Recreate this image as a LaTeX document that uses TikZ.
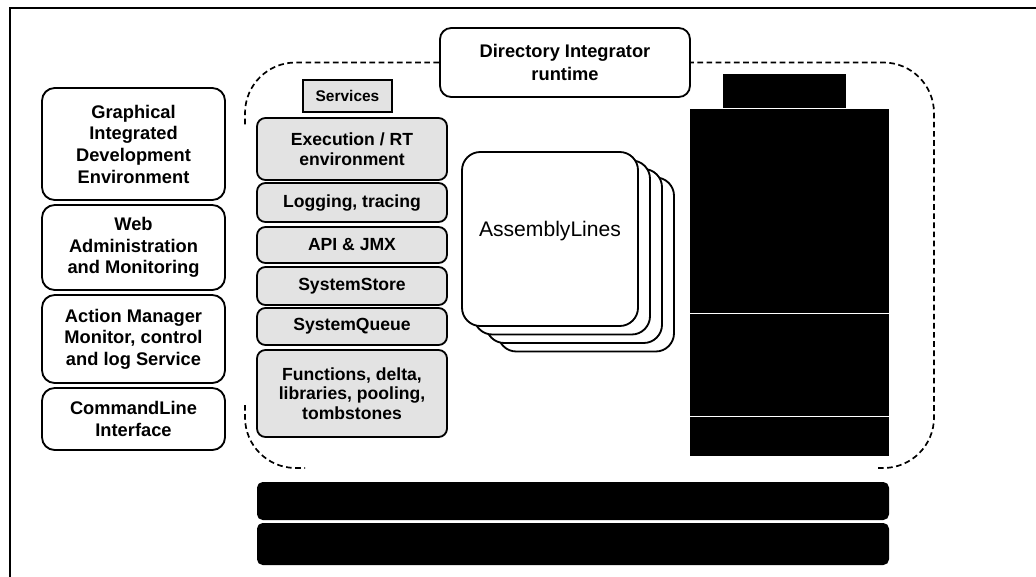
\documentclass[tikz,border=0pt]{standalone}
\usepackage{fontspec}
\setmainfont{Liberation Sans}
\newlength\pxu
\setlength\pxu{0.025cm}

\begin{document}
\begin{tikzpicture}[x=0.025cm, y=-0.025cm,
    toolbox/.style={draw, line width=1.3pt, rounded corners=9pt, align=center, inner sep=0pt,
        minimum width=183*\pxu, font=\fontsize{13}{15.4}\selectfont\bfseries},
    svcbox/.style={draw, line width=1.3pt, fill=gray!22, rounded corners=6pt, align=center, inner sep=0pt,
        minimum width=190*\pxu, font=\fontsize{12.5}{14}\selectfont\bfseries},
    blackbox/.style={fill=black, inner sep=0pt},
    alline/.style={draw, line width=1.3pt, fill=white, rounded corners=13pt, inner sep=0pt,
        minimum width=176*\pxu, minimum height=174*\pxu},
    bound/.style={line width=1.2pt, dash pattern=on 4pt off 2.5pt, rounded corners=36pt}]

    % page size and the frame (top and left edge only)
    \useasboundingbox (0,0) rectangle (1036,577);
    \draw[line width=1.4pt] (10,577) -- (10,8) -- (1036,8);

    % runtime label and its dashed boundary (only the visible parts)
    \node[draw, line width=1.3pt, fill=white, rounded corners=8pt, align=center, inner sep=0pt,
        minimum width=250*\pxu, minimum height=69*\pxu, font=\fontsize{13}{16}\selectfont\bfseries]
        (runtime) at (565,62.5) {Directory Integrator\\runtime};
    \draw[bound] (runtime.west) -- (245,62.5) -- (245,125);
    \draw[bound] (245,405) -- (245,468) -- (305,468);
    \draw[bound] (878,468) -- (934,468) -- (934,62.5) -- (runtime.east);

    % tools on the left
    \node[toolbox, minimum height=112*\pxu] (ide) at (133.5,144) {Graphical\\Integrated\\Development\\Environment};
    \node[toolbox, minimum height=85*\pxu] (webadmin) at (133.5,247.5) {Web\\Administration\\and Monitoring};
    \node[toolbox, minimum height=88*\pxu] (actmgr) at (133.5,339) {Action Manager\\Monitor, control\\and log Service};
    \node[toolbox, minimum height=62*\pxu] (cmdline) at (133.5,419) {CommandLine\\Interface};

    % services
    \node[draw, line width=1.5pt, fill=gray!22, inner sep=0pt, minimum width=89*\pxu, minimum height=32*\pxu,
        font=\fontsize{11}{13}\selectfont\bfseries] (services) at (347.5,96) {Services};
    \node[svcbox, minimum height=62*\pxu] (exec) at (352,149) {Execution / RT\\environment};
    \node[svcbox, minimum height=39*\pxu] (logging) at (352,202.5) {Logging, tracing};
    \node[svcbox, minimum height=36*\pxu] (api) at (352,245) {API \& JMX};
    \node[svcbox, minimum height=38*\pxu] (store) at (352,286) {SystemStore};
    \node[svcbox, minimum height=37*\pxu] (queue) at (352,326.5) {SystemQueue};
    \node[svcbox, minimum height=87*\pxu] (funcs) at (352,393.5) {Functions, delta,\\libraries, pooling,\\tombstones};

    % stack of assembly lines
    \foreach \i in {3,2,1}
        \node[alline] (al\i) at ({550+12*\i},{239+8.5*\i}) {};
    \node[alline, font=\fontsize{15}{18}\selectfont] (assembly) at (550,239) {\raisebox{14pt}{AssemblyLines}};

    % black column on the right
    \node[blackbox, minimum width=123*\pxu, minimum height=34*\pxu] (topblk) at (784.5,91) {};
    \node[blackbox, minimum width=199*\pxu, minimum height=203.5*\pxu] (blkA) at (789.5,211) {};
    \node[blackbox, minimum width=199*\pxu, minimum height=101.5*\pxu] (blkB) at (789.5,365) {};
    \node[blackbox, minimum width=199*\pxu, minimum height=39*\pxu] (blkC) at (789.5,436.5) {};

    % bottom bars
    \node[blackbox, rounded corners=4pt, minimum width=632*\pxu, minimum height=38*\pxu] (barA) at (573,501) {};
    \node[blackbox, rounded corners=4pt, minimum width=632*\pxu, minimum height=42*\pxu] (barB) at (573,544) {};
\end{tikzpicture}
\end{document}
